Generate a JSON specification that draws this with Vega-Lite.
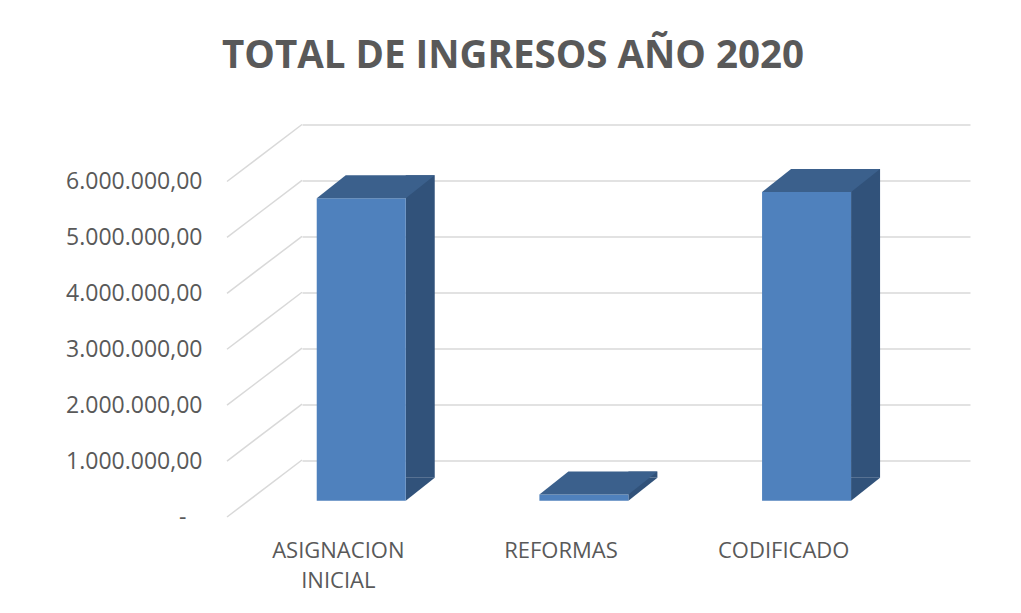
{
  "$schema": "https://vega.github.io/schema/vega-lite/v6.json",
  "autosize": "none",
  "width": 668,
  "height": 335.5,
  "padding": {"left": 302, "top": 124.5, "right": 51, "bottom": 153},
  "background": "white",
  "config": {
    "locale": {"number": {"decimal": ",", "thousands": ".", "grouping": [3], "currency": ["", ""]}},
    "view": {"stroke": null},
    "font": "Open Sans"
  },
  "title": {
    "text": "TOTAL DE INGRESOS AÑO 2020",
    "font": "Open Sans",
    "fontSize": 38.5,
    "fontWeight": "bold",
    "color": "#595959",
    "anchor": "middle",
    "dx": -123,
    "offset": 47
  },
  "datasets": {
    "bars": [
      {"categoria": "ASIGNACION INICIAL", "valor": 5410000},
      {"categoria": "REFORMAS", "valor": 110000},
      {"categoria": "CODIFICADO", "valor": 5520000}
    ],
    "ticks": [
      {"v": 0}, {"v": 1000000}, {"v": 2000000}, {"v": 3000000},
      {"v": 4000000}, {"v": 5000000}, {"v": 6000000}
    ]
  },
  "layer": [
    {
      "data": {"name": "ticks"},
      "mark": {"type": "rule", "color": "#D9D9D9", "strokeWidth": 1.5, "y2Offset": 57},
      "encoding": {
        "x": {"value": 0},
        "x2": {"value": -75},
        "y": {"field": "v", "type": "quantitative", "scale": {"domain": [0, 6000000], "nice": false},
              "axis": {
                "orient": "left", "offset": 75, "labelOffset": 57, "ticks": false, "domain": false,
                "grid": true, "gridColor": "#D9D9D9", "gridWidth": 1.5,
                "values": [0, 1000000, 2000000, 3000000, 4000000, 5000000, 6000000],
                "format": ",.2f",
                "labelExpr": "datum.value == 0 ? '-' : datum.label",
                "labelFont": "Open Sans", "labelFontSize": 23, "labelColor": "#595959",
                "labelPadding": {"condition": {"test": "datum.value == 0", "value": 41}, "value": 25},
                "title": null
              }},
        "y2": {"field": "v"}
      }
    },
    {
      "data": {"name": "bars"},
      "layer": [
        {
          "mark": {"type": "bar", "color": "#31527A", "width": 29, "xOffset": 6.9, "yOffset": 17.7, "y2Offset": 17.7},
          "encoding": {
            "x": {"field": "categoria", "type": "nominal", "sort": null,
                  "scale": {"paddingInner": 0, "paddingOuter": 0},
                  "axis": {
                    "orient": "bottom", "offset": 57, "labelOffset": -75, "ticks": false, "domain": false,
                    "labelAngle": 0, "labelFont": "Open Sans", "labelFontSize": 22, "labelColor": "#595959",
                    "labelPadding": 23, "labelLineHeight": 30,
                    "labelExpr": "split(datum.label, ' ')", "title": null
                  }},
            "y": {"field": "valor", "type": "quantitative"}
          }
        },
        {
          "mark": {"type": "point", "filled": true, "size": 4, "opacity": 1, "strokeWidth": 0, "color": "#31527A",
                   "shape": "M-7.6,40.7L-7.6,17.7L21.4,17.7Z"},
          "encoding": {
            "x": {"field": "categoria", "type": "nominal", "sort": null},
            "y": {"datum": 0, "type": "quantitative"}
          }
        },
        {
          "mark": {"type": "bar", "color": "#4F81BD", "width": 89, "xOffset": -52.1, "yOffset": 40.7, "y2Offset": 40.7},
          "encoding": {
            "x": {"field": "categoria", "type": "nominal", "sort": null},
            "y": {"field": "valor", "type": "quantitative"}
          }
        },
        {
          "mark": {"type": "point", "filled": true, "size": 4, "opacity": 1, "strokeWidth": 0, "color": "#3B608C",
                   "shape": "M-96.6,40.7L-7.6,40.7L21.4,17.7L-67.6,17.7Z"},
          "encoding": {
            "x": {"field": "categoria", "type": "nominal", "sort": null},
            "y": {"field": "valor", "type": "quantitative"}
          }
        }
      ]
    }
  ]
}
